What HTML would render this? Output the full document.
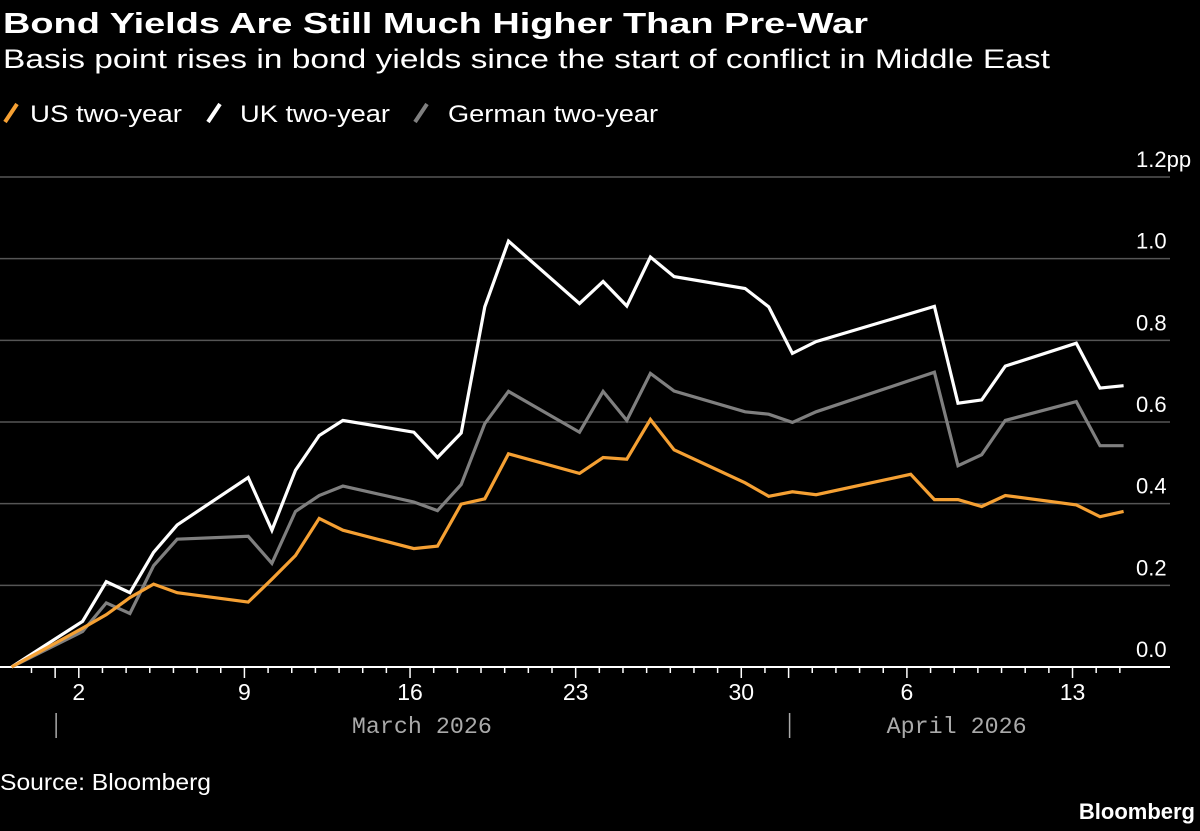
<!DOCTYPE html>
<html><head><meta charset="utf-8"><style>
html,body{margin:0;padding:0;background:#000;}
svg{display:block;}
text{font-family:"Liberation Sans",sans-serif;}
text.mono{font-family:"Liberation Mono",monospace;}
</style></head><body>
<svg id="chart" width="1200" height="831" viewBox="0 0 1200 831" xmlns="http://www.w3.org/2000/svg">
<rect width="1200" height="831" fill="#000"/>
<text x="3" y="33" fill="#fff" font-weight="bold" font-size="29" textLength="865" lengthAdjust="spacingAndGlyphs">Bond Yields Are Still Much Higher Than Pre-War</text>
<text x="3" y="68" fill="#fff" font-size="27" textLength="1047" lengthAdjust="spacingAndGlyphs">Basis point rises in bond yields since the start of conflict in Middle East</text>
<g>
<g><line x1="5" y1="122" x2="17" y2="104" stroke="#f5a033" stroke-width="4"/><text x="30" y="122" fill="#fff" font-size="24" textLength="152" lengthAdjust="spacingAndGlyphs">US two-year</text></g>
<g><line x1="208" y1="122" x2="220" y2="104" stroke="#fff" stroke-width="4"/><text x="240" y="122" fill="#fff" font-size="24" textLength="150" lengthAdjust="spacingAndGlyphs">UK two-year</text></g>
<g><line x1="415" y1="122" x2="427" y2="104" stroke="#7f7f7f" stroke-width="4"/><text x="448" y="122" fill="#fff" font-size="24" textLength="210" lengthAdjust="spacingAndGlyphs">German two-year</text></g>
</g>
<g id="grid"></g>
<g id="ylabels"></g>
<g id="xaxis"></g>
<g id="series"></g>
<text x="0" y="790" fill="#fff" font-size="23" textLength="211" lengthAdjust="spacingAndGlyphs">Source: Bloomberg</text>
<text x="1195" y="819" fill="#fff" font-weight="bold" font-size="22" text-anchor="end">Bloomberg</text>
</svg>
<script>
// day numbers relative to Mar 1 (=1); Feb 27 = -1
const days = [-1,2,3,4,5,6,9,10,11,12,13,16,17,18,19,20,23,24,25,26,27,30,31,32,33,37,38,39,40,41,44,45,46];
const usValues = [0,0.095,0.128,0.170,0.203,0.182,0.159,0.215,0.273,0.364,0.335,0.290,0.296,0.399,0.412,0.522,0.474,0.513,0.509,0.606,0.532,0.451,0.418,0.429,0.422,0.472,0.410,0.410,0.393,0.420,0.397,0.368,0.381];
const ukValues = [0,0.112,0.209,0.182,0.281,0.348,0.464,0.335,0.482,0.567,0.604,0.575,0.513,0.573,0.882,1.043,0.890,0.944,0.884,1.004,0.956,0.927,0.882,0.768,0.797,null,0.883,0.646,0.654,0.737,0.793,0.683,0.689];
const deValues = [0,0.087,0.157,0.131,0.248,0.313,0.320,0.254,0.381,0.420,0.443,0.404,0.383,0.447,0.596,0.675,0.575,0.675,0.604,0.719,0.676,0.625,0.619,0.599,0.625,null,0.722,0.493,0.520,0.604,0.650,0.542,0.542];
const yTicks = [0,0.2,0.4,0.6,0.8,1.0,1.2];
const yTickLabels = ["0.0","0.2","0.4","0.6","0.8","1.0","1.2pp"];
const xTickDays = [2,9,16,23,30,37,44];
const xTickLabels = ["2","9","16","23","30","6","13"];
const monthDays = [1,32];
const monthLabels = ["March 2026","April 2026"];
const monthLabelDays = [16.5,39.1];

const NS="http://www.w3.org/2000/svg";
function xs(d){return 78.8+(d-2)*23.66;}
function ys(v){return 667-v*(490/1.2);}
function mk(tag,attrs,parent){const e=document.createElementNS(NS,tag);for(const k in attrs)e.setAttribute(k,attrs[k]);parent.appendChild(e);return e;}
const grid=document.getElementById('grid'),yl=document.getElementById('ylabels'),xa=document.getElementById('xaxis'),ser=document.getElementById('series');
yTicks.forEach((v,i)=>{
  if(v>0){const g=mk('line',{x1:0,x2:1170,y1:ys(v),y2:ys(v),stroke:'#555','stroke-width':1.5},grid);
  
  }
  const t=mk('text',{x:1136,y:ys(v)-10,fill:'#fff','font-size':22},yl);
  t.textContent=yTickLabels[i];
  
  
});
const ax=mk('line',{x1:0,x2:1170,y1:667,y2:667,stroke:'#fff','stroke-width':2},xa);


for(let d=0;d<=46;d++){
  const major=xTickDays.includes(d)||monthDays.includes(d);
  const tk=mk('line',{x1:xs(d),x2:xs(d),y1:667,y2:major?678:673,stroke:'#fff','stroke-width':1.5},xa);
  
  
}
xTickDays.forEach((d,i)=>{
  const t=mk('text',{x:xs(d),y:700,fill:'#fff','font-size':23,'text-anchor':'middle'},xa);
  t.textContent=xTickLabels[i];
  
  
});
monthDays.forEach((d,i)=>{
  const p=mk('line',{x1:xs(d)+1,x2:xs(d)+1,y1:713,y2:738,stroke:'#aaa','stroke-width':1.5},xa);
  
  
  const t=mk('text',{x:xs(monthLabelDays[i])-70,y:733,fill:'#aaa','font-size':23,'class':'mono',textLength:140,lengthAdjust:'spacingAndGlyphs'},xa);
  t.textContent=monthLabels[i];
  
  
});
function drawSeries(vals,color,name){
  let pts=[];
  days.forEach((d,i)=>{if(vals[i]!==null)pts.push((xs(d)+3.8).toFixed(1)+','+ys(vals[i]).toFixed(1));});
  const pl=mk('polyline',{points:pts.join(' '),fill:'none',stroke:color,'stroke-width':3.2,'stroke-linejoin':'miter','stroke-miterlimit':3},ser);
  
  
}
drawSeries(deValues,'#7f7f7f','german-two-year-line');
drawSeries(ukValues,'#ffffff','uk-two-year-line');
drawSeries(usValues,'#f5a033','us-two-year-line');
</script>
</body></html>
